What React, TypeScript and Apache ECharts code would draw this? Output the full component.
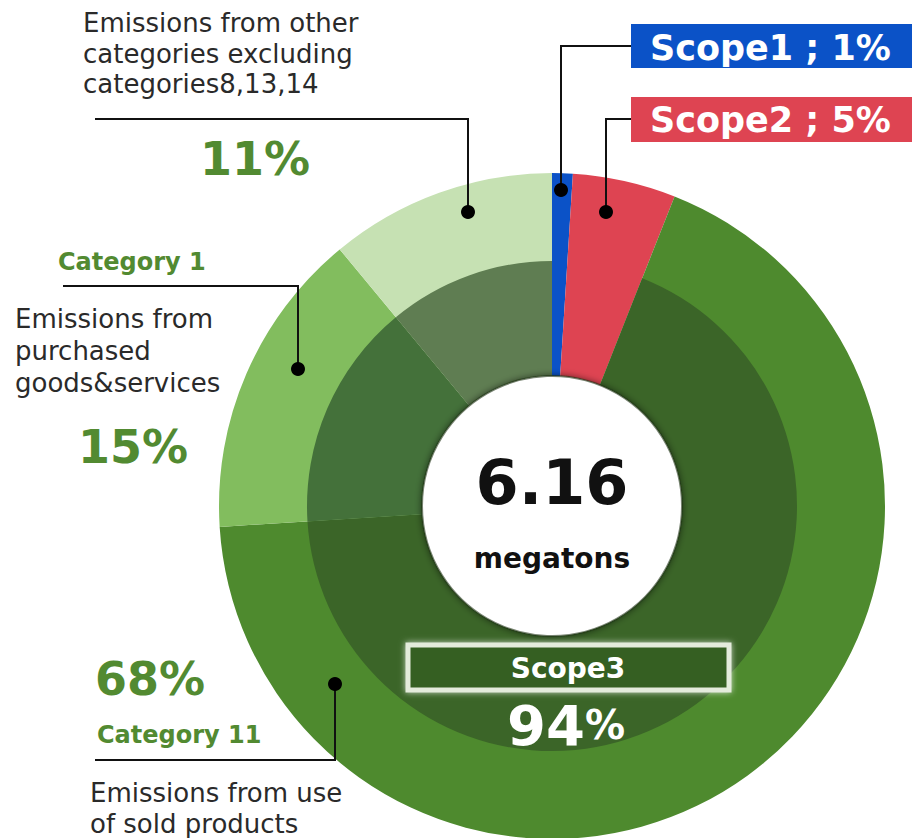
import React, { useEffect, useRef } from 'react';
import * as echarts from 'echarts';

// ---- data ----
const scopeLabels = ['Scope1', 'Scope2'];
const scopeValues = [1, 5];
const categoryLabels = ['Category 11', 'Category 1', 'Other categories'];
const categoryValues = [68, 15, 11];
const totalEmissions = '6.16';
const totalUnit = 'megatons';
const scope3Label = 'Scope3';
const scope3Share = 94;

const CX = 552;
const CY = 506;
const FONT = '"DejaVu Sans", Verdana, sans-serif';
const GREEN_TEXT = '#528a31';

function txt(x: number, y: number, text: string, size: number, color: string, bold = false, align = 'left', extra: any = {}) {
  return {
    type: 'text',
    x,
    y,
    z: 100,
    style: {
      text,
      fontSize: size,
      fontFamily: FONT,
      fontWeight: bold ? 'bold' : 'normal',
      fill: color,
      align,
      verticalAlign: 'middle',
      textAlign: align,
      textVerticalAlign: 'middle',
      ...extra,
    },
  };
}

function poly(points: number[][]) {
  return {
    type: 'polyline',
    z: 100,
    shape: { points },
    style: { stroke: '#111', lineWidth: 2, fill: 'none' },
  };
}

function dot(x: number, y: number) {
  return { type: 'circle', z: 101, shape: { cx: x, cy: y, r: 7 }, style: { fill: '#000' } };
}

export default function App() {
  const ref = useRef<HTMLDivElement>(null);

  useEffect(() => {
    const chart = echarts.init(ref.current!, null, { renderer: 'svg' });
    const scopeColors = ['#0b52c7', '#de4452'];
    const outerCatColors = ['#4e8a2e', '#82bd5e', '#c6e1b3'];
    const innerCatColors = ['#3b6528', '#44713a', '#5f7d52'];

    const outerData = [
      ...scopeLabels.map((n, i) => ({ name: n, value: scopeValues[i], itemStyle: { color: scopeColors[i] } })),
      ...categoryLabels.map((n, i) => ({ name: n, value: categoryValues[i], itemStyle: { color: outerCatColors[i] } })),
    ];
    const innerData = [
      {
        name: 'Scope1+2',
        value: scopeValues.reduce((a, b) => a + b, 0),
        itemStyle: { color: 'rgba(0,0,0,0)' },
      },
      ...categoryLabels.map((n, i) => ({ name: n + ' (Scope3)', value: categoryValues[i], itemStyle: { color: innerCatColors[i] } })),
    ];

    const pieBase = {
      type: 'pie',
      center: [CX, CY],
      startAngle: 90,
      clockwise: true,
      silent: true,
      avoidLabelOverlap: false,
      label: { show: false },
      labelLine: { show: false },
      emphasis: { disabled: true },
      itemStyle: { borderWidth: 0 },
    };

    const option: any = {
      animation: false,
      backgroundColor: '#ffffff',
      series: [
        { ...pieBase, name: 'outer', radius: [130, 333], data: outerData },
        { ...pieBase, name: 'inner', radius: [130, 245], data: innerData },
      ],
      graphic: [
        // hole rim
        {
          type: 'circle',
          z: 50,
          shape: { cx: CX, cy: CY, r: 130 },
          style: { fill: '#fff', stroke: 'rgba(30,50,20,0.6)', lineWidth: 2, shadowBlur: 7, shadowColor: 'rgba(0,0,0,0.55)' },
        },
        // Scope boxes
        { type: 'rect', z: 100, shape: { x: 631, y: 24, width: 281, height: 44 }, style: { fill: scopeColors[0] } },
        { type: 'rect', z: 100, shape: { x: 631, y: 97, width: 281, height: 45 }, style: { fill: scopeColors[1] } },
        txt(650, 48, `${scopeLabels[0]} ; ${scopeValues[0]}%`, 35, '#fff', true),
        txt(650, 120, `${scopeLabels[1]} ; ${scopeValues[1]}%`, 35, '#fff', true),
        poly([[561, 190], [561, 46], [631, 46]]),
        dot(561, 190),
        poly([[606, 212], [606, 119], [631, 119]]),
        dot(606, 212),

        // Other categories
        txt(83, 23, 'Emissions from other', 26, '#2a2a2a'),
        txt(83, 54, 'categories excluding', 26, '#2a2a2a'),
        txt(83, 84, 'categories8,13,14', 26, '#2a2a2a'),
        poly([[95, 119], [468, 119], [468, 212]]),
        dot(468, 212),
        txt(200, 159, `${categoryValues[2]}%`, 46, GREEN_TEXT, true),

        // Category 1
        txt(58, 262, categoryLabels[1], 24, GREEN_TEXT, true),
        poly([[63, 286], [298, 286], [298, 369]]),
        dot(298, 369),
        txt(15, 319, 'Emissions from', 26, '#2a2a2a'),
        txt(15, 351, 'purchased', 26, '#2a2a2a'),
        txt(15, 383, 'goods&services', 26, '#2a2a2a'),
        txt(78, 447, `${categoryValues[1]}%`, 46, GREEN_TEXT, true),

        // Category 11
        txt(95, 679, `${categoryValues[0]}%`, 46, GREEN_TEXT, true),
        txt(97, 735, categoryLabels[0], 24, GREEN_TEXT, true),
        poly([[95, 760], [335, 760], [335, 684]]),
        dot(335, 684),
        txt(90, 793, 'Emissions from use', 26, '#2a2a2a'),
        txt(90, 824, 'of sold products', 26, '#2a2a2a'),

        // center
        txt(CX, 482, totalEmissions, 62, '#111', true, 'center'),
        txt(CX, 558, totalUnit, 28, '#111', true, 'center'),

        // Scope3 box
        {
          type: 'rect',
          z: 100,
          shape: { x: 408, y: 645, width: 321, height: 45 },
          style: { fill: '#365f23', stroke: '#e4ebdc', lineWidth: 5, shadowBlur: 6, shadowColor: 'rgba(255,255,255,0.7)' },
        },
        txt(568, 668, scope3Label, 28, '#fff', true, 'center'),
        {
          type: 'text',
          x: 566,
          y: 725,
          z: 100,
          style: {
            text: `{a|${scope3Share}}{b|%}`,
            align: 'center',
            verticalAlign: 'middle',
            textAlign: 'center',
            textVerticalAlign: 'middle',
            fill: '#fff',
            shadowBlur: 4,
            shadowColor: 'rgba(0,0,0,0.6)',
            rich: {
              a: { fontSize: 56, fontWeight: 'bold', fontFamily: FONT, fill: '#fff' },
              b: { fontSize: 40, fontWeight: 'bold', fontFamily: FONT, fill: '#fff' },
            },
          },
        },
      ],
    };

    chart.setOption(option);
    return () => chart.dispose();
  }, []);

  return (
    <div
      ref={ref}
      style={{ position: 'fixed', left: 0, top: 0, width: 912, height: 838, background: '#fff' }}
    />
  );
}
